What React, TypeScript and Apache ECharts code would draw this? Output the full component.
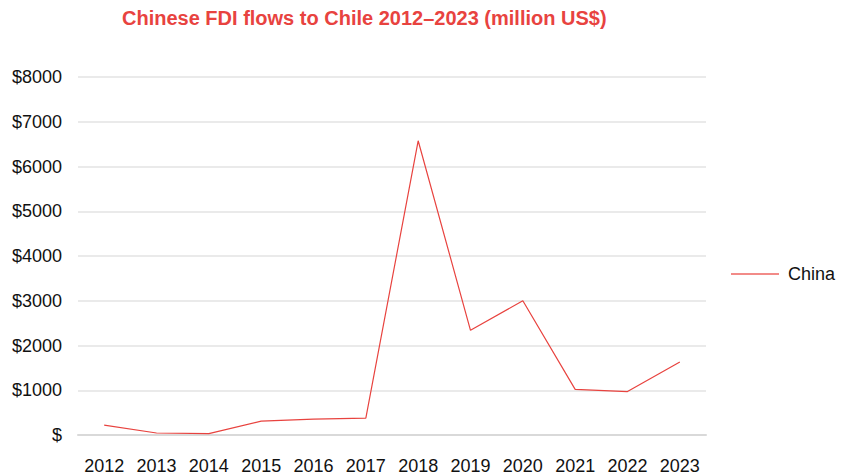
import React, { useEffect, useRef } from "react";
import * as echarts from "echarts";

const years = ["2012", "2013", "2014", "2015", "2016", "2017", "2018", "2019", "2020", "2021", "2022", "2023"];
const chinaFdi = [220, 45, 30, 310, 355, 375, 6575, 2340, 3000, 1020, 970, 1630];
const titleText = "Chinese FDI flows to Chile 2012\u20132023 (million US$)";
const seriesName = "China";

export default function App() {
  const ref = useRef<HTMLDivElement>(null);
  useEffect(() => {
    document.body.style.margin = "0";
    const chart = echarts.init(ref.current!, null, { renderer: "svg" });
    const font = "'Liberation Sans', Arial, Helvetica, sans-serif";
    chart.setOption({
      animation: false,
      backgroundColor: "#ffffff",
      title: {
        text: titleText,
        left: 117,
        top: 3,
        textStyle: { color: "#e8433f", fontSize: 20, fontWeight: "bold", fontFamily: font },
      },
      legend: {
        data: [{ name: seriesName, icon: "rect" }],
        orient: "vertical",
        left: 726,
        top: 260,
        itemWidth: 48,
        itemHeight: 1.5,
        itemGap: 10,
        textStyle: { color: "#111", fontSize: 18, fontFamily: font, padding: [0, 0, 0, 4] },
      },
      grid: { left: 78, right: 142, top: 77, bottom: 41, containLabel: false },
      xAxis: {
        type: "category",
        data: years,
        boundaryGap: true,
        axisLine: { show: true, lineStyle: { color: "#d9d9d9", width: 2 } },
        axisTick: { show: false },
        axisLabel: { color: "#111", fontSize: 18, fontFamily: font, margin: 22, interval: 0 },
      },
      yAxis: {
        type: "value",
        min: 0,
        max: 8000,
        interval: 1000,
        axisLine: { show: false },
        axisTick: { show: false },
        splitLine: { lineStyle: { color: "#e3e3e3", width: 1.5 } },
        axisLabel: {
          color: "#111",
          fontSize: 18,
          fontFamily: font,
          margin: 16,
          formatter: (v: number) => (v === 0 ? "$" : "$" + v),
        },
      },
      series: [
        {
          name: seriesName,
          type: "line",
          data: chinaFdi,
          symbol: "none",
          lineStyle: { color: "#e8433f", width: 1.2 },
          itemStyle: { color: "#ee6560" },
        },
      ],
    });
    return () => chart.dispose();
  }, []);
  return <div ref={ref} style={{ width: 848, height: 476, position: "absolute", left: 0, top: 0 }} />;
}
